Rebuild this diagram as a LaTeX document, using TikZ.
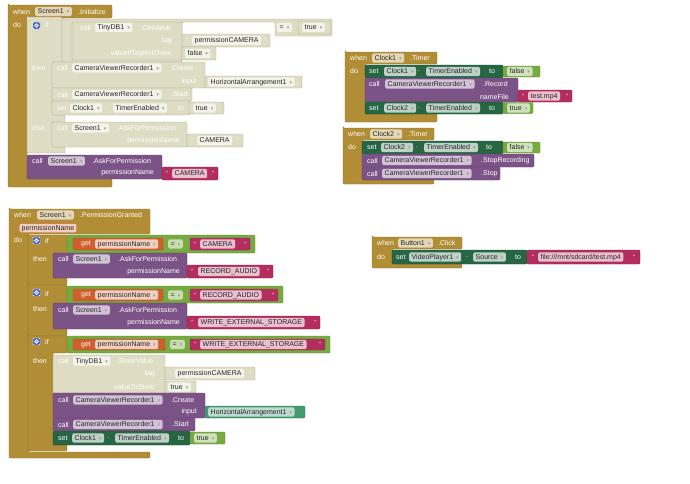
\documentclass[tikz,border=0pt]{standalone}
\usepackage{fontspec}
\setmainfont{Liberation Sans}
\newfontfamily\arrfont{DejaVu Sans}
\usetikzlibrary{positioning}

\definecolor{evgold}{RGB}{177,142,53}
\definecolor{paleblk}{RGB}{222,220,195}
\definecolor{setgrn}{RGB}{38,102,67}
\definecolor{callpur}{RGB}{124,83,135}
\definecolor{logicgrn}{RGB}{119,171,65}
\definecolor{txtmag}{RGB}{179,45,94}
\definecolor{getorg}{RGB}{208,95,45}
\definecolor{compteal}{RGB}{67,153,112}
\definecolor{gearblue}{RGB}{62,92,208}

\newcommand{\dd}{\hspace{3pt}{\arrfont\fontsize{5}{5}\selectfont\textcolor{black!40}{▾}}}

\tikzset{
  blk/.style={fill=#1, draw=#1!78!black, line width=0.4pt, rounded corners=1.2pt},
  lbl/.style={text=white, inner sep=0pt, anchor=west, font=\fontsize{7}{8}\selectfont},
  rlbl/.style={lbl, anchor=east},
  qt/.style={lbl, font=\fontsize{6}{7}\selectfont},
  fld/.style={fill=#1, rounded corners=2pt, text=black!85, inner xsep=2.5pt, inner ysep=1.3pt,
    anchor=west, font=\fontsize{7}{8}\selectfont, text height=5.4pt, text depth=1.4pt},
  gear/.style={fill=gearblue, draw=white, line width=0.4pt, rounded corners=1pt},
}

\begin{document}
\begin{tikzpicture}[x=1pt, y=-1pt]
\useasboundingbox (0,0) rectangle (690,483);

% when Screen1.Initialize
\filldraw[blk=evgold] (8,5) -| (112,18) -| (27,179) -| (112,187) -| cycle;
\node[lbl] (a1) at (13,11.5) {when};
\node[fld=evgold!35!white] (a2) at (35,11.5) {Screen1\dd};
\node[lbl] (a3) at (78,11.5) {.Initialize};
\node[lbl] (a4) at (13,25) {do};

% disabled if/else
\filldraw[blk=paleblk] (27,17) -| (62,62) -| (52,115) -| (65,122) -| (52,147) -| (65,153) -| cycle;
\filldraw[gear] (33,22) rectangle (40,29);
\draw[white, line width=0.8pt] (36.5,25.5) circle (1.7);
\node[lbl] (a5) at (45,25) {if};
\node[lbl] (a6) at (32,68) {then};
\node[lbl] (a7) at (32,128) {else};

\filldraw[blk=paleblk] (62,19) -| (332,36) -| (275,22) -| (182,62) -| cycle;
\filldraw[blk=paleblk] (72,22) rectangle (182,60);
\node[lbl] (a8) at (80,27.5) {call};
\node[fld=paleblk!35!white] (a9) at (95,27.5) {TinyDB1\dd};
\node[lbl] (a10) at (140,27.5) {.GetValue};
\node[fld=paleblk!35!white] (a11) at (277,27.5) {=\dd};
\filldraw[blk=paleblk] (298,21) rectangle (331,34);
\node[fld=paleblk!35!white] (a12) at (302,27.5) {true\dd};
\node[rlbl] (a13) at (172,40.5) {tag};
\filldraw[blk=paleblk] (182,34) rectangle (270,47);
\node[qt] (a14) at (186,40.5) {"};
\node[fld=paleblk!35!white] (a15) at (192,40.5) {permissionCAMERA};
\node[qt] (a16) at (264,40.5) {"};
\node[rlbl] (a17) at (172,53.5) {valueIfTagNotThere};
\filldraw[blk=paleblk] (182,47) rectangle (216,60);
\node[fld=paleblk!35!white] (a18) at (185,53.5) {false\dd};

\filldraw[blk=paleblk] (52,62) rectangle (205,88);
\node[lbl] (a19) at (57,68) {call};
\node[fld=paleblk!35!white] (a20) at (72,68) {CameraViewerRecorder1\dd};
\node[lbl] (a21) at (170,68) {.Create};
\node[rlbl] (a22) at (197,82) {input};
\filldraw[blk=paleblk] (205,76) rectangle (302,88);
\node[fld=paleblk!35!white] (a23) at (208,82) {HorizontalArrangement1\dd};

\filldraw[blk=paleblk] (52,88) rectangle (192,101);
\node[lbl] (a24) at (57,94.5) {call};
\node[fld=paleblk!35!white] (a25) at (72,94.5) {CameraViewerRecorder1\dd};
\node[lbl] (a26) at (171,94.5) {.Start};

\filldraw[blk=paleblk] (52,101) rectangle (190,115);
\node[lbl] (a27) at (57,108) {set};
\node[fld=paleblk!35!white] (a28) at (70,108) {Clock1\dd};
\node[lbl] (a29) at (104,108) {.};
\node[fld=paleblk!35!white] (a30) at (113,108) {TimerEnabled\dd};
\node[lbl] (a31) at (178,108) {to};
\filldraw[blk=paleblk] (189,102) rectangle (224,114);
\node[fld=paleblk!35!white] (a32) at (193,108) {true\dd};

\filldraw[blk=paleblk] (52,122) rectangle (187,147);
\node[lbl] (a33) at (57,128) {call};
\node[fld=paleblk!35!white] (a34) at (72,128) {Screen1\dd};
\node[lbl] (a35) at (117,128) {.AskForPermission};
\node[rlbl] (a36) at (180,141) {permissionName};
\filldraw[blk=paleblk] (187,134) rectangle (243,147);
\node[qt] (a37) at (191,140.5) {"};
\node[fld=paleblk!35!white] (a38) at (197,140.5) {CAMERA};
\node[qt] (a39) at (237,140.5) {"};

\filldraw[blk=callpur] (27,155) rectangle (162,179);
\node[lbl] (a40) at (32,161) {call};
\node[fld=callpur!35!white] (a41) at (48,161) {Screen1\dd};
\node[lbl] (a42) at (92,161) {.AskForPermission};
\node[rlbl] (a43) at (154,173) {permissionName};
\filldraw[blk=txtmag] (162,167) rectangle (218,180);
\node[qt] (a44) at (166,173.5) {"};
\node[fld=txtmag!30!white] (a45) at (172,173.5) {CAMERA};
\node[qt] (a46) at (212,173.5) {"};

% when Clock1.Timer
\filldraw[blk=evgold] (345,52) -| (437,64) -| (365,114) -| (437,122) -| cycle;
\node[lbl] (b1) at (350,58) {when};
\node[fld=evgold!35!white] (b2) at (372,58) {Clock1\dd};
\node[lbl] (b3) at (410,58) {.Timer};
\node[lbl] (b4) at (350,71) {do};

\filldraw[blk=setgrn] (365,65) rectangle (503,78);
\node[lbl] (b5) at (369,71.5) {set};
\node[fld=setgrn!30!white] (b6) at (384,71.5) {Clock1\dd};
\node[lbl] (b7) at (418,71.5) {.};
\node[fld=setgrn!30!white] (b8) at (426,71.5) {TimerEnabled\dd};
\node[lbl] (b9) at (489,71.5) {to};
\filldraw[blk=logicgrn] (503,66) rectangle (540,77);
\node[fld=logicgrn!35!white] (b10) at (507,71.5) {false\dd};

\filldraw[blk=callpur] (365,78) rectangle (518,102);
\node[lbl] (b11) at (369,84) {call};
\node[fld=callpur!35!white] (b12) at (385,84) {CameraViewerRecorder1\dd};
\node[lbl] (b13) at (483,84) {.Record};
\node[rlbl] (b14) at (509,96.5) {nameFile};
\filldraw[blk=txtmag] (518,90) rectangle (572,102);
\node[qt] (b15) at (522,96) {"};
\node[fld=txtmag!30!white] (b16) at (528,96) {test.mp4};
\node[qt] (b17) at (566,96) {"};

\filldraw[blk=setgrn] (365,102) rectangle (503,114);
\node[lbl] (b18) at (369,108) {set};
\node[fld=setgrn!30!white] (b19) at (384,108) {Clock2\dd};
\node[lbl] (b20) at (418,108) {.};
\node[fld=setgrn!30!white] (b21) at (426,108) {TimerEnabled\dd};
\node[lbl] (b22) at (489,108) {to};
\filldraw[blk=logicgrn] (503,102.5) rectangle (533,113.5);
\node[fld=logicgrn!35!white] (b23) at (507,108) {true\dd};

% when Clock2.Timer
\filldraw[blk=evgold] (343,128) -| (434,140) -| (362,180) -| (434,184) -| cycle;
\node[lbl] (c1) at (348,134) {when};
\node[fld=evgold!35!white] (c2) at (370,134) {Clock2\dd};
\node[lbl] (c3) at (408,134) {.Timer};
\node[lbl] (c4) at (348,147) {do};

\filldraw[blk=setgrn] (362,141) rectangle (503,154);
\node[lbl] (c5) at (367,147.5) {set};
\node[fld=setgrn!30!white] (c6) at (381,147.5) {Clock2\dd};
\node[lbl] (c7) at (416,147.5) {.};
\node[fld=setgrn!30!white] (c8) at (424,147.5) {TimerEnabled\dd};
\node[lbl] (c9) at (486,147.5) {to};
\filldraw[blk=logicgrn] (503,142) rectangle (540,153);
\node[fld=logicgrn!35!white] (c10) at (507,147.5) {false\dd};

\filldraw[blk=callpur] (362,154) rectangle (534,167);
\node[lbl] (c11) at (367,160.5) {call};
\node[fld=callpur!35!white] (c12) at (382,160.5) {CameraViewerRecorder1\dd};
\node[lbl] (c13) at (481,160.5) {.StopRecording};

\filldraw[blk=callpur] (362,167) rectangle (500,180);
\node[lbl] (c14) at (367,173.5) {call};
\node[fld=callpur!35!white] (c15) at (382,173.5) {CameraViewerRecorder1\dd};
\node[lbl] (c16) at (481,173.5) {.Stop};

% when Screen1.PermissionGranted
\filldraw[blk=evgold] (9,209) -| (150,234) -| (28,452) -| (150,458) -| cycle;
\node[lbl] (d1) at (14,215) {when};
\node[fld=evgold!35!white] (d2) at (37,215) {Screen1\dd};
\node[lbl] (d3) at (80,215) {.PermissionGranted};
\node[fld=getorg!30!white, draw=getorg, line width=0.4pt] (d4) at (19,228) {permissionName};
\node[lbl] (d5) at (14,240) {do};

% if CAMERA
\filldraw[blk=evgold] (28,235) -| (67,253) -| (53,278) -| (67,285) -| cycle;
\filldraw[gear] (33,237) rectangle (40,244);
\draw[white, line width=0.8pt] (36.5,240.5) circle (1.7);
\node[lbl] (d6) at (45,241) {if};
\node[lbl] (d7) at (33,259) {then};
\filldraw[blk=logicgrn] (67,235) rectangle (255,253);
\filldraw[blk=getorg] (73,238) rectangle (163,250);
\node[lbl] (d8) at (81,244) {get};
\node[fld=getorg!30!white] (d9) at (95,244) {permissionName\dd};
\node[fld=logicgrn!40!white] (d10) at (168,244) {=\dd};
\filldraw[blk=txtmag] (190,238) rectangle (250,250);
\node[qt] (d11) at (194,244) {"};
\node[fld=txtmag!30!white] (d12) at (200,244) {CAMERA};
\node[qt] (d13) at (244,244) {"};
\filldraw[blk=callpur] (53,253) rectangle (187,278);
\node[lbl] (d14) at (58,259) {call};
\node[fld=callpur!35!white] (d15) at (73,259) {Screen1\dd};
\node[lbl] (d16) at (118,259) {.AskForPermission};
\node[rlbl] (d17) at (180,272) {permissionName};
\filldraw[blk=txtmag] (187,265) rectangle (273,278);
\node[qt] (d18) at (191,271.5) {"};
\node[fld=txtmag!30!white] (d19) at (198,271.5) {RECORD\_AUDIO};
\node[qt] (d20) at (267,271.5) {"};

% if RECORD_AUDIO
\filldraw[blk=evgold] (28,285) -| (67,303) -| (53,329) -| (67,336) -| cycle;
\filldraw[gear] (33,289) rectangle (40,296);
\draw[white, line width=0.8pt] (36.5,292.5) circle (1.7);
\node[lbl] (d21) at (45,294) {if};
\node[lbl] (d22) at (33,309) {then};
\filldraw[blk=logicgrn] (67,286) rectangle (283,303);
\filldraw[blk=getorg] (73,289) rectangle (163,301);
\node[lbl] (d23) at (81,295) {get};
\node[fld=getorg!30!white] (d24) at (95,295) {permissionName\dd};
\node[fld=logicgrn!40!white] (d25) at (168,295) {=\dd};
\filldraw[blk=txtmag] (190,289) rectangle (278,301);
\node[qt] (d26) at (194,295) {"};
\node[fld=txtmag!30!white] (d27) at (200,295) {RECORD\_AUDIO};
\node[qt] (d28) at (272,295) {"};
\filldraw[blk=callpur] (53,303) rectangle (187,329);
\node[lbl] (d29) at (58,310) {call};
\node[fld=callpur!35!white] (d30) at (73,310) {Screen1\dd};
\node[lbl] (d31) at (118,310) {.AskForPermission};
\node[rlbl] (d32) at (180,323) {permissionName};
\filldraw[blk=txtmag] (187,316) rectangle (320,329);
\node[qt] (d33) at (191,322.5) {"};
\node[fld=txtmag!30!white] (d34) at (198,322.5) {WRITE\_EXTERNAL\_STORAGE};
\node[qt] (d35) at (314,322.5) {"};

% if WRITE_EXTERNAL_STORAGE
\filldraw[blk=evgold] (28,336) -| (67,353) -| (53,445) -| (67,451) -| cycle;
\filldraw[gear] (33,338) rectangle (40,345);
\draw[white, line width=0.8pt] (36.5,341.5) circle (1.7);
\node[lbl] (d36) at (45,342) {if};
\node[lbl] (d37) at (33,361) {then};
\filldraw[blk=logicgrn] (67,336) rectangle (330,353);
\filldraw[blk=getorg] (73,339) rectangle (165,350);
\node[lbl] (d38) at (81,344.5) {get};
\node[fld=getorg!30!white] (d39) at (95,344.5) {permissionName\dd};
\node[fld=logicgrn!40!white] (d40) at (170,344.5) {=\dd};
\filldraw[blk=txtmag] (190,339) rectangle (325,350);
\node[qt] (d41) at (194,344.5) {"};
\node[fld=txtmag!30!white] (d42) at (200,344.5) {WRITE\_EXTERNAL\_STORAGE};
\node[qt] (d43) at (319,344.5) {"};

\filldraw[blk=paleblk] (53,355) rectangle (165,393);
\node[lbl] (d44) at (58,361) {call};
\node[fld=paleblk!35!white] (d45) at (73,361) {TinyDB1\dd};
\node[lbl] (d46) at (117,361) {.StoreValue};
\node[rlbl] (d47) at (155,373.5) {tag};
\filldraw[blk=paleblk] (165,367) rectangle (255,380);
\node[qt] (d48) at (169,373.5) {"};
\node[fld=paleblk!35!white] (d49) at (175,373.5) {permissionCAMERA};
\node[qt] (d50) at (249,373.5) {"};
\node[rlbl] (d51) at (155,387) {valueToStore};
\filldraw[blk=paleblk] (165,381) rectangle (196,393);
\node[fld=paleblk!35!white] (d52) at (168,387) {true\dd};

\filldraw[blk=callpur] (53,393) rectangle (205,418);
\node[lbl] (d53) at (58,400) {call};
\node[fld=callpur!35!white] (d54) at (73,400) {CameraViewerRecorder1\dd};
\node[lbl] (d55) at (171,400) {.Create};
\node[rlbl] (d56) at (197,412) {input};
\filldraw[blk=compteal] (205,406) rectangle (305,418);
\node[fld=compteal!35!white] (d57) at (208,412) {HorizontalArrangement1\dd};

\filldraw[blk=callpur] (53,418) rectangle (195,431);
\node[lbl] (d58) at (58,424.5) {call};
\node[fld=callpur!35!white] (d59) at (73,424.5) {CameraViewerRecorder1\dd};
\node[lbl] (d60) at (172,424.5) {.Start};

\filldraw[blk=setgrn] (53,431) rectangle (190,445);
\node[lbl] (d61) at (58,438) {set};
\node[fld=setgrn!30!white] (d62) at (72,438) {Clock1\dd};
\node[lbl] (d63) at (107,438) {.};
\node[fld=setgrn!30!white] (d64) at (115,438) {TimerEnabled\dd};
\node[lbl] (d65) at (178,438) {to};
\filldraw[blk=logicgrn] (190,432) rectangle (225,444);
\node[fld=logicgrn!35!white] (d66) at (194,438) {true\dd};

% when Button1.Click
\filldraw[blk=evgold] (372,237) -| (462,249) -| (392,264) -| (462,268) -| cycle;
\node[lbl] (e1) at (377,243) {when};
\node[fld=evgold!35!white] (e2) at (398,243) {Button1\dd};
\node[lbl] (e3) at (438,243) {.Click};
\node[lbl] (e4) at (377,257) {do};
\filldraw[blk=setgrn] (392,250) rectangle (527,264);
\node[lbl] (e5) at (396,257) {set};
\node[fld=setgrn!30!white] (e6) at (409,257) {VideoPlayer1\dd};
\node[lbl] (e7) at (466,257) {.};
\node[fld=setgrn!30!white] (e8) at (473,257) {Source\dd};
\node[lbl] (e9) at (515,257) {to};
\filldraw[blk=txtmag] (527,250) rectangle (640,264);
\node[qt] (e10) at (532,257) {"};
\node[fld=txtmag!30!white] (e11) at (538,257) {file:///mnt/sdcard/test.mp4};
\node[qt] (e12) at (633,257) {"};
\end{tikzpicture}
\end{document}
